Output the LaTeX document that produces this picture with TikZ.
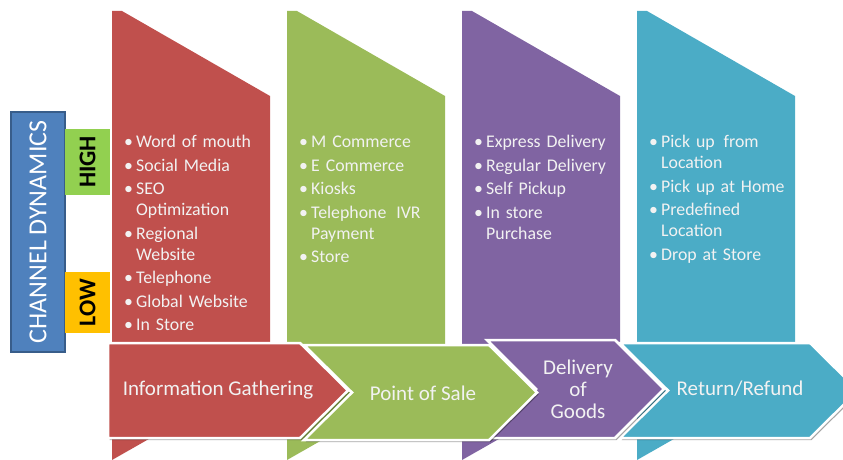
\documentclass[tikz,border=0pt]{standalone}
\usepackage{fontspec}
\setmainfont{Carlito}
\usetikzlibrary{shadows}

\definecolor{gatherred}{HTML}{C0504D}
\definecolor{salegreen}{HTML}{9BBB59}
\definecolor{deliverpurple}{HTML}{8064A2}
\definecolor{returnblue}{HTML}{4BACC6}
\definecolor{dynblue}{HTML}{4F81BD}
\definecolor{dynborder}{HTML}{385D8A}
\definecolor{highgreen}{HTML}{92D050}
\definecolor{lowyellow}{HTML}{FFC000}
\definecolor{softwhite}{HTML}{F2F2F2}

% one bullet line, later lines hang under the text
\newcommand{\bitem}[1]{\par\hangindent=15pt\hangafter=1\noindent\makebox[15pt][l]{\hspace{3pt}\textbullet}#1}

\tikzset{
  chevron/.style={line width=2.5pt, draw=white, line join=miter,
    drop shadow={shadow xshift=1.5pt, shadow yshift=-2pt, opacity=0.35, fill=black}},
  stagetext/.style={text=softwhite, font=\fontsize{21}{22}\selectfont, align=center},
  listtext/.style={text=softwhite, font=\fontsize{17.8}{21}\selectfont, text width=140pt,
    inner sep=0pt, anchor=north west},
  levelbox/.style={rotate=90, minimum height=45pt, inner sep=0pt,
    font=\fontsize{24}{24}\selectfont\bfseries}
}

\begin{document}
\begin{tikzpicture}[x=1pt, y=-1pt]
    \useasboundingbox (0,0) rectangle (843,460);
    \clip (0,0) rectangle (843,460);

    % Columns behind the stages
    \fill[gatherred] (112,11) -- ++(10,0) -- ++(148,85) -- ++(0,274) -- ++(-158,90) -- cycle;
    \fill[salegreen] (287,11) -- ++(10,0) -- ++(148,85) -- ++(0,274) -- ++(-158,90) -- cycle;
    \fill[deliverpurple] (462,11) -- ++(10,0) -- ++(148,85) -- ++(0,274) -- ++(-158,90) -- cycle;
    \fill[returnblue] (637,11) -- ++(10,0) -- ++(148,85) -- ++(0,274) -- ++(-158,90) -- cycle;

    % Stage arrows, right one first so each tip lies over the next notch
    \filldraw[chevron, fill=returnblue] (620,343) -- (810,343) -- (858,390.5) -- (810,438) -- (620,438) -- (668,390.5) -- cycle;
    \filldraw[chevron, fill=deliverpurple] (487,340) -- (615,340) -- (664,389) -- (615,438) -- (487,438) -- (536,389) -- cycle;
    \filldraw[chevron, fill=salegreen] (304,345) -- (489,345) -- (537,392.5) -- (489,440) -- (304,440) -- (352,392.5) -- cycle;
    \filldraw[chevron, fill=gatherred] (108,343) -- (300,343) -- (348,390.5) -- (300,438) -- (108,438) -- cycle;

    \node[stagetext] (gather) at (218,390) {Information Gathering};
    \node[stagetext] (sale) at (423,393) {Point of Sale};
    \node[stagetext] (deliver) at (578,389) {Delivery\\of\\Goods};
    \node[stagetext] (refund) at (740,389) {Return/Refund};

    % Channel lists
    \node[listtext] (gatherlist) at (121,124) {\raggedright\setlength{\parskip}{2.5pt}%
      \bitem{Word of mouth}
      \bitem{Social Media}
      \bitem{SEO\newline Optimization}
      \bitem{Regional\newline Website}
      \bitem{Telephone}
      \bitem{Global Website}
      \bitem{In Store}\par};
    \node[listtext] (salelist) at (296,124) {\raggedright\setlength{\parskip}{2.5pt}%
      \bitem{M Commerce}
      \bitem{E Commerce}
      \bitem{Kiosks}
      \bitem{Telephone\hspace{4pt} IVR\newline Payment}
      \bitem{Store}\par};
    \node[listtext] (deliverlist) at (471,124) {\raggedright\setlength{\parskip}{2.5pt}%
      \bitem{Express Delivery}
      \bitem{Regular Delivery}
      \bitem{Self Pickup}
      \bitem{In store\newline Purchase}\par};
    \node[listtext] (refundlist) at (646,124) {\raggedright\setlength{\parskip}{2.5pt}%
      \bitem{Pick up\hspace{3pt} from\newline Location}
      \bitem{Pick up at Home}
      \bitem{Predefined\newline Location}
      \bitem{Drop at Store}\par};

    % Channel dynamics scale
    \node[rotate=90, fill=dynblue, draw=dynborder, line width=1.5pt, minimum width=240pt,
      minimum height=54pt, text=white, font=\fontsize{26}{26}\selectfont] (dynamics) at (38,232) {CHANNEL DYNAMICS};
    \node[levelbox, fill=highgreen, minimum width=66pt] (high) at (87.5,162) {HIGH};
    \node[levelbox, fill=lowyellow, minimum width=61pt] (low) at (87.5,302.5) {LOW};
\end{tikzpicture}
\end{document}
